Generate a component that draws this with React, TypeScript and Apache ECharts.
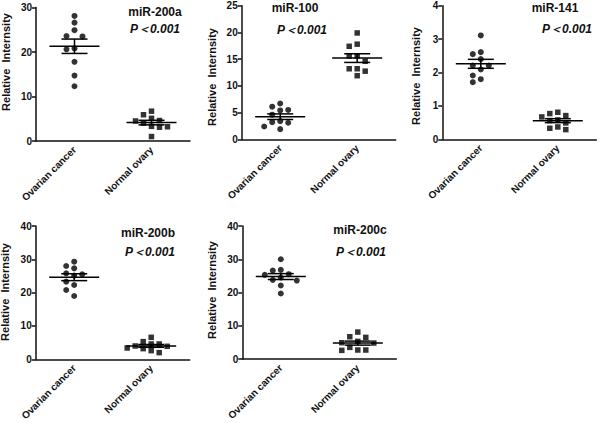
import React, { useEffect, useRef } from "react";
import * as echarts from "echarts";

const categories = ["Ovarian cancer", "Normal ovary"];
const panelTitles = ["miR-200a", "miR-100", "miR-141", "miR-200b", "miR-200c"];
const pLabel = "P＜0.001";
const yAxisTitle = "Relative  Internsity";
const yMaxes = [30, 25, 4, 40, 40];
const yIntervals = [10, 5, 1, 10, 10];

const miR200aOvarian = [28.1, 26.6, 24.9, 23.6, 23.5, 20.8, 20.6, 17.8, 14.7, 12.3];
const miR200aNormal = [6.7, 5.9, 5.1, 4.6, 4.0, 4.5, 3.2, 3.1, 3.3, 1.0];
const miR100Ovarian = [6.7, 6.1, 5.5, 5.4, 4.6, 3.4, 3.2, 3.1, 2.4, 1.9];
const miR100Normal = [19.9, 17.8, 17.4, 15.6, 15.6, 14.6, 13.2, 13.2, 12.75, 11.9];
const miR141Ovarian = [3.11, 2.61, 2.55, 2.4, 2.21, 2.21, 2.09, 1.91, 1.8, 1.71];
const miR141Normal = [0.81, 0.77, 0.71, 0.67, 0.58, 0.56, 0.49, 0.37, 0.33, 0.29];
const miR200bOvarian = [29.3, 28.0, 27.3, 25.8, 25.5, 25.1, 23.3, 22.3, 20.8, 19.0];
const miR200bNormal = [6.6, 5.3, 4.6, 4.6, 4.0, 3.9, 3.4, 3.2, 2.6, 2.0];
const miR200cOvarian = [30.0, 26.8, 26.6, 25.5, 25.3, 24.5, 23.8, 23.6, 22.1, 19.7];
const miR200cNormal = [8.1, 6.7, 6.5, 5.3, 4.9, 4.8, 3.5, 2.7, 2.7, 2.6];

const panelData = [
  [miR200aOvarian, miR200aNormal],
  [miR100Ovarian, miR100Normal],
  [miR141Ovarian, miR141Normal],
  [miR200bOvarian, miR200bNormal],
  [miR200cOvarian, miR200cNormal],
];

// layout
const grids = [
  { left: 36, top: 7.5, width: 154, height: 133.5 },
  { left: 241.7, top: 5.7, width: 154, height: 133.6 },
  { left: 442.3, top: 5.7, width: 154, height: 133.6 },
  { left: 35.7, top: 226, width: 154, height: 133.3 },
  { left: 242.3, top: 226, width: 154, height: 133 },
];
const titlePos = [
  { x: 155, y: 12, px: 155, py: 29 },
  { x: 295, y: 8, px: 302, py: 30 },
  { x: 555, y: 8, px: 567, py: 29 },
  { x: 148, y: 233, px: 150, py: 252 },
  { x: 360, y: 230, px: 361, py: 252 },
];
const yTitlePos = [
  { x: 6, y: 62 },
  { x: 212, y: 77 },
  { x: 416, y: 76 },
  { x: 5, y: 292 },
  { x: 212, y: 290 },
];

const FONT = "'Liberation Sans', Arial, sans-serif";
const INK = "#111";

function mean(a: number[]) {
  return a.reduce((s, v) => s + v, 0) / a.length;
}
function sem(a: number[]) {
  const m = mean(a);
  const v = a.reduce((s, x) => s + (x - m) * (x - m), 0) / (a.length - 1);
  return Math.sqrt(v) / Math.sqrt(a.length);
}

function swarm(values: number[], pxPerUnit: number, spacing = 8, minDist = 6.5) {
  const order = values.map((_, i) => i).sort((a, b) => values[b] - values[a]);
  const placed: { y: number; lane: number }[] = [];
  const offsets = new Array(values.length).fill(0);
  const lanes = [0, -1, 1, -2, 2, -3, 3, -4, 4];
  for (const i of order) {
    const y = values[i] * pxPerUnit;
    for (const lane of lanes) {
      if (placed.every((p) => p.lane !== lane || Math.abs(p.y - y) >= minDist)) {
        placed.push({ y, lane });
        offsets[i] = lane * spacing;
        break;
      }
    }
  }
  return offsets;
}

export default function App() {
  const ref = useRef<HTMLDivElement>(null);
  useEffect(() => {
    if (!ref.current) return;
    const chart = echarts.init(ref.current, null, { renderer: "svg" });
    const grid: any[] = [];
    const xAxis: any[] = [];
    const yAxis: any[] = [];
    const series: any[] = [];
    const graphic: any[] = [];

    panelData.forEach((groups, p) => {
      const g = grids[p];
      grid.push({ left: g.left, top: g.top, width: g.width, height: g.height });
      xAxis.push({
        type: "category",
        gridIndex: p,
        data: categories,
        boundaryGap: true,
        axisLine: { lineStyle: { color: INK, width: 1.5 } },
        axisTick: { alignWithLabel: true, length: 4, lineStyle: { color: INK, width: 1.5 } },
        axisLabel: {
          rotate: 45,
          margin: 7,
          fontSize: 10,
          fontWeight: "bold",
          fontFamily: FONT,
          color: INK,
          interval: 0,
        },
        splitLine: { show: false },
      });
      yAxis.push({
        type: "value",
        gridIndex: p,
        min: 0,
        max: yMaxes[p],
        interval: yIntervals[p],
        axisLine: { show: true, lineStyle: { color: INK, width: 1.5 } },
        axisTick: { show: true, length: 4, lineStyle: { color: INK, width: 1.5 } },
        axisLabel: { fontSize: 10, fontWeight: "bold", fontFamily: FONT, color: INK, margin: 4 },
        splitLine: { show: false },
      });
      const pxPerUnit = g.height / yMaxes[p];
      groups.forEach((vals, c) => {
        const offs = swarm(vals, pxPerUnit);
        series.push({
          type: "scatter",
          xAxisIndex: p,
          yAxisIndex: p,
          symbol: c === 0 ? "circle" : "rect",
          symbolSize: c === 0 ? 6 : 5.5,
          itemStyle: { color: "#000" },
          z: 2,
          data: vals.map((v, i) => ({ value: [c, v], symbolOffset: [offs[i], 0] })),
        });
      });
      series.push({
        type: "custom",
        xAxisIndex: p,
        yAxisIndex: p,
        z: 5,
        data: groups.map((vals, c) => [c, mean(vals), sem(vals)]),
        renderItem: (params: any, api: any) => {
          const c = api.value(0);
          const m = api.value(1);
          const s = api.value(2);
          const mid = api.coord([c, m]);
          const hi = api.coord([c, m + s]);
          const lo = api.coord([c, m - s]);
          const st = { stroke: "#000", lineWidth: 1.5 };
          return {
            type: "group",
            children: [
              { type: "line", shape: { x1: mid[0] - 25, y1: mid[1], x2: mid[0] + 25, y2: mid[1] }, style: st },
              { type: "line", shape: { x1: hi[0] - 13, y1: hi[1], x2: hi[0] + 13, y2: hi[1] }, style: st },
              { type: "line", shape: { x1: lo[0] - 13, y1: lo[1], x2: lo[0] + 13, y2: lo[1] }, style: st },
              { type: "line", shape: { x1: hi[0], y1: hi[1], x2: lo[0], y2: lo[1] }, style: st },
            ],
          };
        },
      });

      const t = titlePos[p];
      graphic.push({
        type: "text",
        x: t.x,
        y: t.y,
        style: {
          text: panelTitles[p],
          font: `bold 12px ${FONT}`,
          fill: INK,
          textAlign: "center",
          textVerticalAlign: "middle",
        },
      });
      graphic.push({
        type: "text",
        x: t.px,
        y: t.py,
        style: {
          text: pLabel,
          font: `italic bold 12px ${FONT}`,
          fill: INK,
          textAlign: "center",
          textVerticalAlign: "middle",
        },
      });
      const yt = yTitlePos[p];
      graphic.push({
        type: "text",
        x: yt.x,
        y: yt.y,
        rotation: Math.PI / 2,
        style: {
          text: yAxisTitle,
          font: `bold 11px ${FONT}`,
          fill: INK,
          textAlign: "center",
          textVerticalAlign: "middle",
        },
      });
    });

    chart.setOption({
      animation: false,
      backgroundColor: "#fff",
      grid,
      xAxis,
      yAxis,
      series,
      graphic,
    });
    return () => chart.dispose();
  }, []);
  return (
    <div
      ref={ref}
      style={{ position: "fixed", left: 0, top: 0, width: 600, height: 425, background: "#fff" }}
    />
  );
}
